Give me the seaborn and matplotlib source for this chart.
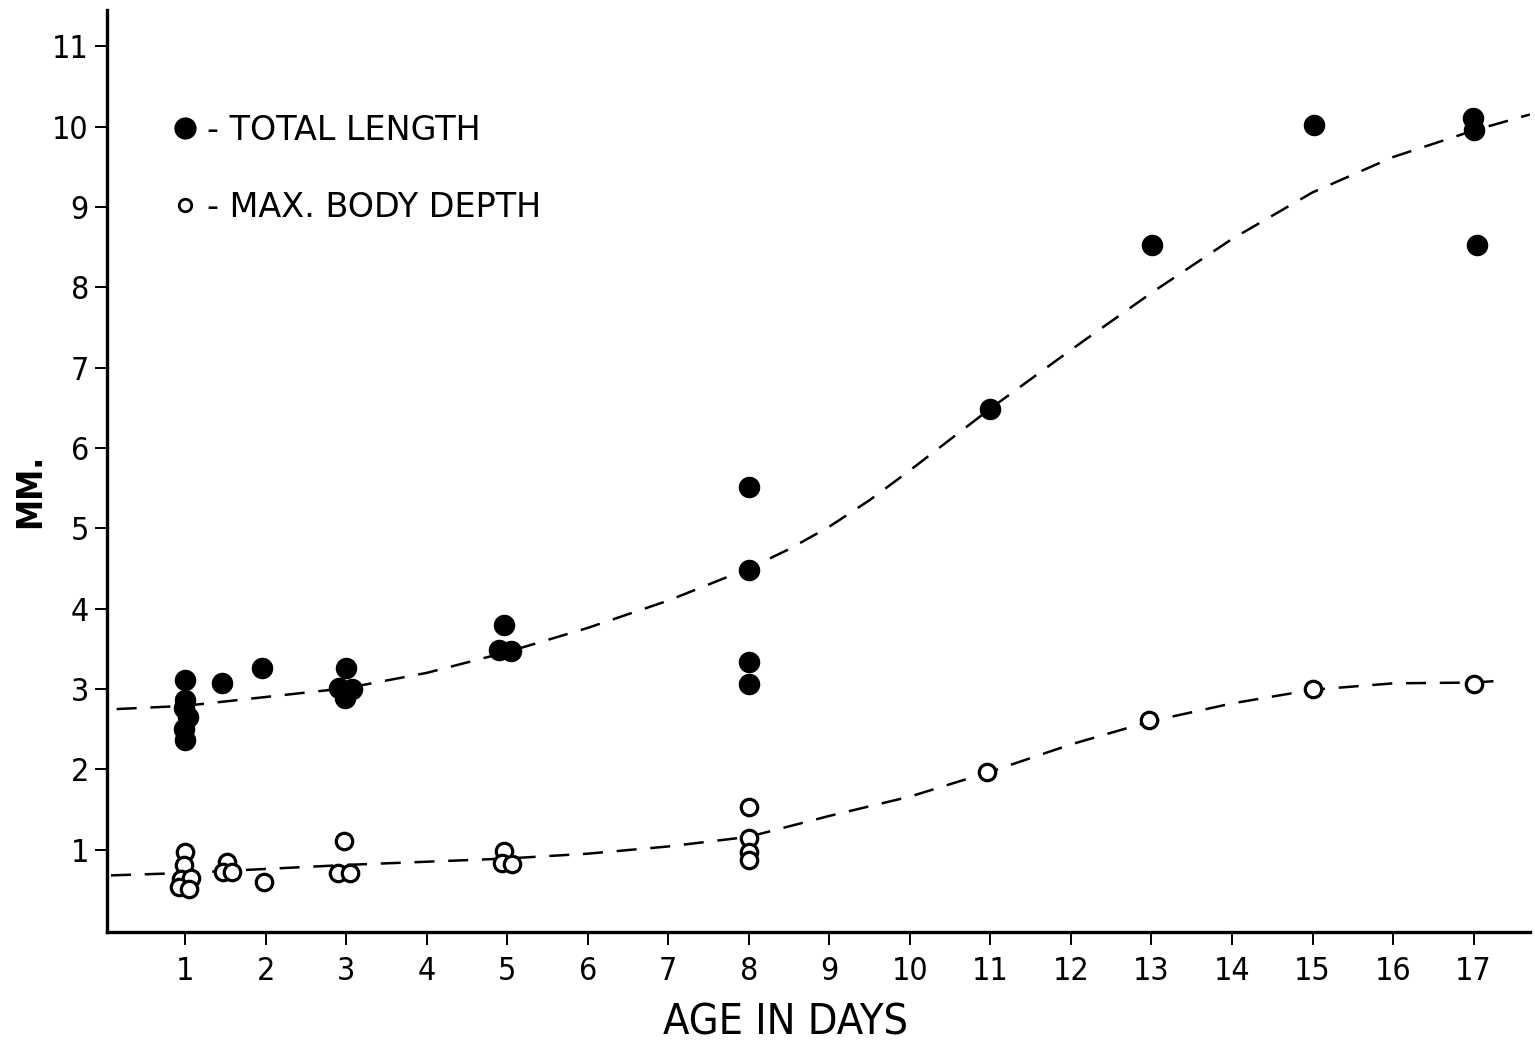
import matplotlib
matplotlib.use("Agg")
import matplotlib.pyplot as plt
from matplotlib.lines import Line2D
import seaborn as sns
import pandas as pd

# ---- data ----
tl_age = [1.0, 1.0, 0.99, 1.04, 0.99, 1.0, 1.46, 1.96, 3.0, 2.91, 3.07, 2.99,
          4.96, 4.90, 5.05, 8.0, 8.0, 8.0, 8.0, 10.99, 13.01, 15.02, 16.99, 17.01, 17.04]
tl_mm = [3.11, 2.86, 2.76, 2.65, 2.50, 2.36, 3.07, 3.26, 3.26, 3.01, 3.00, 2.89,
         3.79, 3.49, 3.47, 5.51, 4.48, 3.33, 3.06, 6.49, 8.53, 10.02, 10.11, 9.96, 8.53]

bd_age = [1.0, 0.99, 0.95, 1.07, 0.93, 1.05, 1.52, 1.47, 1.58, 1.98, 2.97, 2.90, 3.05,
          4.96, 4.94, 5.06, 8.0, 8.0, 8.0, 8.0, 10.96, 12.97, 15.0, 17.0]
bd_mm = [0.97, 0.81, 0.64, 0.65, 0.54, 0.51, 0.85, 0.72, 0.72, 0.60, 1.11, 0.71, 0.71,
         0.98, 0.83, 0.82, 1.53, 1.14, 0.97, 0.87, 1.97, 2.61, 3.00, 3.06]

tl_curve_age = [0.15, 1, 2, 3, 4, 5, 6, 7, 8, 8.5, 9, 9.5, 10, 11, 12, 13, 14, 15, 16, 17, 17.7]
tl_curve_mm = [2.75, 2.79, 2.90, 3.01, 3.20, 3.46, 3.76, 4.10, 4.50, 4.74, 5.02, 5.35,
               5.72, 6.49, 7.22, 7.93, 8.60, 9.18, 9.62, 9.95, 10.15]

bd_curve_age = [0.08, 1, 2, 3, 4, 5, 6, 7, 8, 9, 10, 11, 12, 13, 14, 15, 16, 17, 17.3]
bd_curve_mm = [0.68, 0.71, 0.76, 0.81, 0.85, 0.89, 0.95, 1.04, 1.16, 1.42, 1.66, 1.97,
               2.31, 2.60, 2.82, 2.99, 3.07, 3.08, 3.10]

x_ticks = list(range(1, 18))
y_ticks = list(range(1, 12))
legend_labels = ["- TOTAL LENGTH", "- MAX. BODY DEPTH"]
x_label = "AGE IN DAYS"
y_label = "MM."

# ---- style ----
sns.set_theme(style="ticks")
plt.rcParams["font.family"] = ["DejaVu Sans"]
plt.rcParams["font.stretch"] = "condensed"
plt.rcParams["text.color"] = "black"
plt.rcParams["axes.labelcolor"] = "black"
plt.rcParams["xtick.color"] = "black"
plt.rcParams["ytick.color"] = "black"

fig = plt.figure(figsize=(15.35, 10.43), dpi=100)
ax = fig.add_axes([0.0697, 0.1064, 0.9270, 0.8840])

tl_df = pd.DataFrame({"age": tl_age, "mm": tl_mm})
bd_df = pd.DataFrame({"age": bd_age, "mm": bd_mm})
tlc_df = pd.DataFrame({"age": tl_curve_age, "mm": tl_curve_mm})
bdc_df = pd.DataFrame({"age": bd_curve_age, "mm": bd_curve_mm})

dash = (8, 5.5)
sns.lineplot(data=tlc_df, x="age", y="mm", ax=ax, color="black", lw=1.8,
             sort=False, estimator=None, zorder=2)
sns.lineplot(data=bdc_df, x="age", y="mm", ax=ax, color="black", lw=1.8,
             sort=False, estimator=None, zorder=2)
for ln in ax.get_lines():
    ln.set_dashes(dash)

sns.scatterplot(data=tl_df, x="age", y="mm", ax=ax, color="black", s=240,
                linewidth=0, zorder=3)
sns.scatterplot(data=bd_df, x="age", y="mm", ax=ax, facecolor="white",
                edgecolor="black", s=140, linewidth=2.3, zorder=3)

ax.set_xlim(0.03, 17.7)
ax.set_ylim(-0.025, 11.45)
ax.set_xticks(x_ticks)
ax.set_xticklabels([str(v) for v in x_ticks])
ax.set_yticks(y_ticks)
ax.set_yticklabels([str(v) for v in y_ticks])

for side in ["top", "right"]:
    ax.spines[side].set_visible(False)
for side in ["left", "bottom"]:
    ax.spines[side].set_linewidth(2.4)
    ax.spines[side].set_color("black")

ax.tick_params(axis="x", direction="out", length=9, width=1.4, pad=8,
               labelsize=23, colors="black")
ax.tick_params(axis="y", direction="out", length=9, width=1.4, pad=4,
               labelsize=23, colors="black")

ax.set_xlabel(x_label, fontsize=31, color="black")
ax.xaxis.set_label_coords(0.477, -0.098)
ax.xaxis.label.set_va("center")
ax.set_ylabel(y_label, fontsize=25, color="black", fontweight="bold")
ax.yaxis.set_label_coords(-0.054, 0.479)
ax.yaxis.label.set_va("center")

handles = [
    Line2D([], [], marker="o", linestyle="none", markersize=15,
           markerfacecolor="black", markeredgecolor="black"),
    Line2D([], [], marker="o", linestyle="none", markersize=9,
           markerfacecolor="white", markeredgecolor="black", markeredgewidth=2.0),
]
leg = ax.legend(handles, legend_labels, loc="upper left",
                bbox_to_anchor=(0.035, 0.902), frameon=False,
                prop={"size": 24, "stretch": "normal"},
                handletextpad=0.2, labelspacing=1.32, handlelength=0.9,
                borderaxespad=0)
for t in leg.get_texts():
    t.set_color("black")

fig.savefig("out.png", dpi=100, facecolor="white")
